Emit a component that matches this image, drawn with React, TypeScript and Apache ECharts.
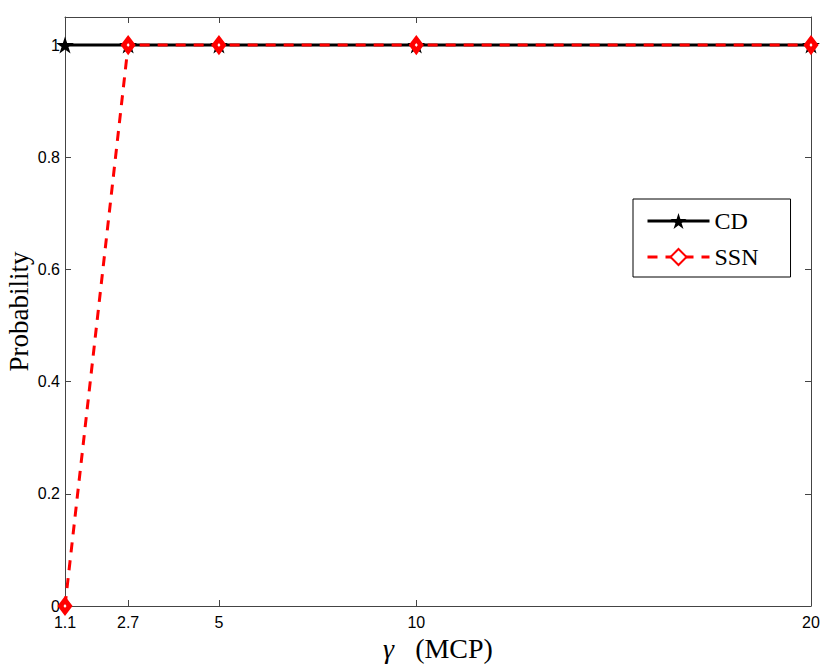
import React, { useEffect, useRef } from "react";
import * as echarts from "echarts";

const xTicks = [1.1, 2.7, 5, 10, 20];
const yTicks = [0, 0.2, 0.4, 0.6, 0.8, 1];
const gammaValues = [1.1, 2.7, 5, 10, 20];
const cdValues = [1, 1, 1, 1, 1];
const ssnValues = [0, 1, 1, 1, 1];

const STAR =
  "path://M0,-100 L22.45,-30.9 L95.1,-30.9 L36.3,11.8 L58.8,80.9 L0,38.2 L-58.8,80.9 L-36.3,11.8 L-95.1,-30.9 L-22.45,-30.9 Z";

export default function App() {
  const ref = useRef<HTMLDivElement>(null);
  useEffect(() => {
    const chart = echarts.init(ref.current!, null, { renderer: "svg" });
    const axisColor = "#444";
    const tickLabel = { fontFamily: "Liberation Sans", fontSize: 16, color: "#000" };
    chart.setOption({
      animation: false,
      backgroundColor: "#fff",
      grid: { left: 65, top: 17, right: 19, bottom: 60, containLabel: false, outerBoundsMode: "none" },
      legend: {
        orient: "vertical",
        left: 633,
        top: 199,
        backgroundColor: "#fff",
        borderColor: "#000",
        borderWidth: 1,
        padding: [10, 32, 8, 13],
        itemGap: 12,
        itemWidth: 62,
        itemHeight: 20,
        lineStyle: { width: 3 },
        textStyle: { fontFamily: "Liberation Serif, serif", fontSize: 24, color: "#000" },
        data: ["CD", "SSN"],
      },
      xAxis: [
        {
          type: "value",
          min: 1.1,
          max: 20,
          name: "{g|γ}   (MCP)",
          nameLocation: "middle",
          nameGap: 25,
          nameTextStyle: {
            fontFamily: "Liberation Serif, serif",
            fontSize: 28,
            color: "#000",
            rich: {
              g: { fontFamily: "Liberation Serif, serif", fontStyle: "italic", fontSize: 28, color: "#000" },
            },
          },
          axisLine: { show: true, lineStyle: { color: axisColor, width: 1 } },
          axisTick: { show: true, inside: true, length: 6, customValues: xTicks, lineStyle: { color: axisColor } },
          axisLabel: { ...tickLabel, margin: 8, customValues: xTicks, formatter: (v: number) => String(v) },
          splitLine: { show: false },
        },
        {
          type: "value",
          min: 1.1,
          max: 20,
          position: "top",
          axisLine: { show: true, onZero: false, lineStyle: { color: axisColor, width: 1 } },
          axisTick: { show: true, inside: true, length: 6, customValues: xTicks, lineStyle: { color: axisColor } },
          axisLabel: { show: false },
          splitLine: { show: false },
        },
      ],
      yAxis: [
        {
          type: "value",
          min: 0,
          max: 1.05,
          name: "Probability",
          nameLocation: "middle",
          nameGap: 33,
          nameMoveOverlap: false,
          nameTextStyle: { fontFamily: "Liberation Serif, serif", fontSize: 27, color: "#000" },
          axisLine: { show: true, lineStyle: { color: axisColor, width: 1 } },
          axisTick: { show: true, inside: true, length: 6, customValues: yTicks, lineStyle: { color: axisColor } },
          axisLabel: { ...tickLabel, margin: 5, customValues: yTicks, formatter: (v: number) => String(v) },
          splitLine: { show: false },
        },
        {
          type: "value",
          min: 0,
          max: 1.05,
          position: "right",
          axisLine: { show: true, onZero: false, lineStyle: { color: axisColor, width: 1 } },
          axisTick: { show: true, inside: true, length: 6, customValues: yTicks, lineStyle: { color: axisColor } },
          axisLabel: { show: false },
          splitLine: { show: false },
        },
      ],
      series: [
        {
          name: "CD",
          type: "line",
          data: gammaValues.map((g, i) => [g, cdValues[i]]),
          symbol: STAR,
          symbolSize: [18, 17],
          showAllSymbol: true,
          lineStyle: { color: "#000", width: 3, type: "solid" },
          itemStyle: { color: "#000", borderWidth: 0 },
          z: 3,
        },
        {
          name: "SSN",
          type: "line",
          data: gammaValues.map((g, i) => [g, ssnValues[i]]),
          symbol: "diamond",
          symbolSize: [9, 12],
          showAllSymbol: true,
          lineStyle: { color: "#ff0000", width: 3, type: [10, 8] },
          itemStyle: { color: "#fff", borderColor: "#ff0000", borderWidth: 5 },
          z: 4,
        },
      ],
    });
    return () => chart.dispose();
  }, []);
  return <div ref={ref} style={{ position: "absolute", left: 0, top: 0, width: 830, height: 666 }} />;
}
